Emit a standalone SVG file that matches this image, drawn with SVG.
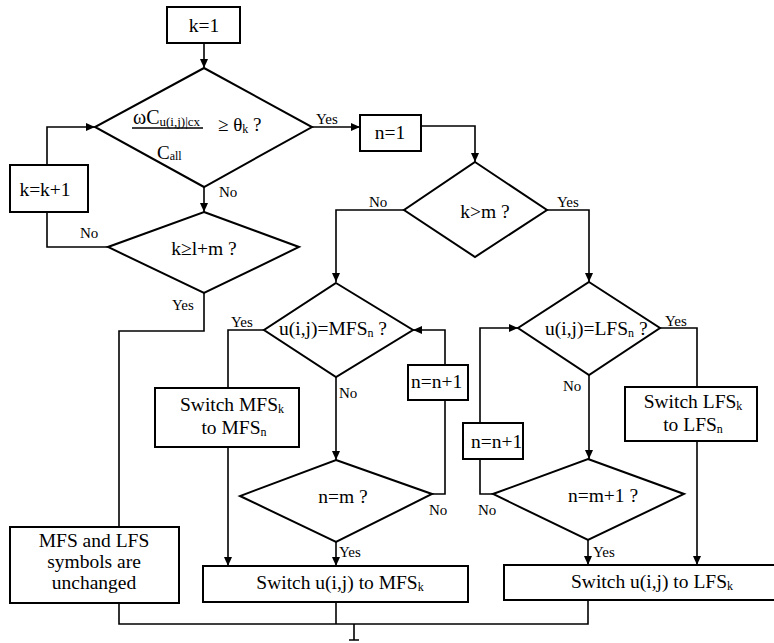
<svg xmlns="http://www.w3.org/2000/svg" width="774" height="643" viewBox="0 0 774 643">
<defs>
<marker id="ah" markerWidth="9" markerHeight="8" refX="9" refY="4" orient="auto" markerUnits="userSpaceOnUse"><path d="M0,0 L9,4 L0,8 z" fill="#000"/></marker>
<style>
.n{fill:#fff;stroke:#000;stroke-width:2}
.c{fill:none;stroke:#000;stroke-width:1.6}
.a{marker-end:url(#ah)}
text{font-family:"Liberation Serif","Times New Roman",serif;fill:#000}
.t{font-size:19.5px}
.m{text-anchor:middle}
.l{font-size:15px}
.s{font-size:12px}
</style>
</defs>
<rect width="774" height="643" fill="#fff"/>
<g id="connectors">
<path class="c a" d="M204,43 V68"/>
<path class="c a" d="M312,127 H360"/>
<path class="c a" d="M421,126 H475 V162"/>
<path class="c a" d="M204,187 V212"/>
<path class="c" d="M108,247 H47 V212"/>
<path class="c a" d="M47,165 V127 H95"/>
<path class="c" d="M204,293 V331 H119 V527"/>
<path class="c a" d="M404,210 H336 V282"/>
<path class="c a" d="M547,210 H589 V282"/>
<path class="c" d="M264,330 H228 V388"/>
<path class="c a" d="M228,447 V566"/>
<path class="c a" d="M336,377 V460"/>
<path class="c" d="M432,494 H445 V400"/>
<path class="c a" d="M445,365 V330 H413"/>
<path class="c a" d="M336,542 V566"/>
<path class="c" d="M660,328 H697 V387"/>
<path class="c a" d="M697,441 V565"/>
<path class="c a" d="M589,375 V459"/>
<path class="c" d="M493,494 H480 V459"/>
<path class="c a" d="M480,423 V328 H518"/>
<path class="c a" d="M588,540 V565"/>
<path class="c" d="M119,603 V624 H588 V600"/>
<path class="c" d="M336,602 V624"/>
<path class="c" d="M354,624 V640 M349,640 H359"/>
<text class="l" x="316" y="124">Yes</text>
<text class="l" x="219" y="197">No</text>
<text class="l" x="80" y="238">No</text>
<text class="l" x="172" y="310">Yes</text>
<text class="l" x="369" y="207">No</text>
<text class="l" x="557" y="207">Yes</text>
<text class="l" x="231" y="327">Yes</text>
<text class="l" x="339" y="398">No</text>
<text class="l" x="429" y="515">No</text>
<text class="l" x="339" y="557">Yes</text>
<text class="l" x="665" y="326">Yes</text>
<text class="l" x="563" y="391">No</text>
<text class="l" x="478" y="515">No</text>
<text class="l" x="593" y="557">Yes</text>
</g>
<g id="k1">
<rect class="n" x="167" y="7" width="73" height="36"/>
<text class="t m" x="204" y="32">k=1</text>
</g>
<g id="d1">
<polygon class="n" points="204,68 312,127 204,187 95,127"/>
<text x="133" y="124" style="font-size:20px">ωC<tspan class="s" dy="2" style="font-size:13px">u(i,j)|cx</tspan></text>
<line x1="132" y1="128" x2="203" y2="128" stroke="#000" stroke-width="1.5"/>
<text x="157" y="159" style="font-size:19px">C<tspan class="s" dy="1">all</tspan></text>
<text x="218" y="131" style="font-size:19px">≥ θ<tspan class="s" dy="2">k</tspan><tspan dy="-2"> ?</tspan></text>
</g>
<g id="n1">
<rect class="n" x="360" y="115" width="61" height="36"/>
<text class="t m" x="390" y="139">n=1</text>
</g>
<g id="kk1">
<rect class="n" x="10" y="165" width="78" height="47"/>
<text class="t m" x="45" y="196">k=k+1</text>
</g>
<g id="d3">
<polygon class="n" points="204,212 299,247 204,293 108,247"/>
<text class="t m" x="204" y="255">k≥l+m ?</text>
</g>
<g id="d2">
<polygon class="n" points="475,162 547,210 475,257 404,210"/>
<text class="t m" x="485" y="218">k&gt;m ?</text>
</g>
<g id="dM">
<polygon class="n" points="336,283 413,330 336,377 264,330"/>
<text class="t" x="279" y="335">u(i,j)=MFS<tspan class="s" dy="2">n</tspan><tspan dy="-2"> ?</tspan></text>
</g>
<g id="swM">
<rect class="n" x="155" y="388" width="144" height="59"/>
<text class="t m" x="232" y="411">Switch MFS<tspan class="s" dy="2">k</tspan></text>
<text class="t m" x="234" y="434">to MFS<tspan class="s" dy="2">n</tspan></text>
</g>
<g id="nn1M">
<rect class="n" x="408" y="365" width="60" height="35"/>
<text class="t" x="411" y="388">n=n+1</text>
</g>
<g id="dnm">
<polygon class="n" points="336,460 432,494 336,542 240,496"/>
<text class="t m" x="343" y="503">n=m ?</text>
</g>
<g id="dL">
<polygon class="n" points="589,282 660,328 589,375 518,328"/>
<text class="t" x="545" y="335">u(i,j)=LFS<tspan class="s" dy="2">n</tspan><tspan dy="-2"> ?</tspan></text>
</g>
<g id="swL">
<rect class="n" x="625" y="387" width="132" height="54"/>
<text class="t m" x="693" y="408">Switch LFS<tspan class="s" dy="2">k</tspan></text>
<text class="t m" x="693" y="431">to LFS<tspan class="s" dy="2">n</tspan></text>
</g>
<g id="nn1L">
<rect class="n" x="463" y="423" width="60" height="36"/>
<text class="t" x="471" y="448">n=n+1</text>
</g>
<g id="dnm1">
<polygon class="n" points="588,459 684,494 588,540 493,494"/>
<text class="t m" x="603" y="502">n=m+1 ?</text>
</g>
<g id="unchanged">
<rect class="n" x="10" y="527" width="169" height="76"/>
<text class="t m" x="94" y="547">MFS and LFS</text>
<text class="t m" x="94" y="568">symbols are</text>
<text class="t m" x="94" y="589">unchanged</text>
</g>
<g id="boxM">
<rect class="n" x="203" y="566" width="265" height="36"/>
<text class="t m" x="340" y="589">Switch u(i,j) to MFS<tspan class="s" dy="2">k</tspan></text>
</g>
<g id="boxL">
<rect class="n" x="504" y="565" width="274" height="35"/>
<text class="t m" x="652" y="588">Switch u(i,j) to LFS<tspan class="s" dy="2">k</tspan></text>
</g>
</svg>
